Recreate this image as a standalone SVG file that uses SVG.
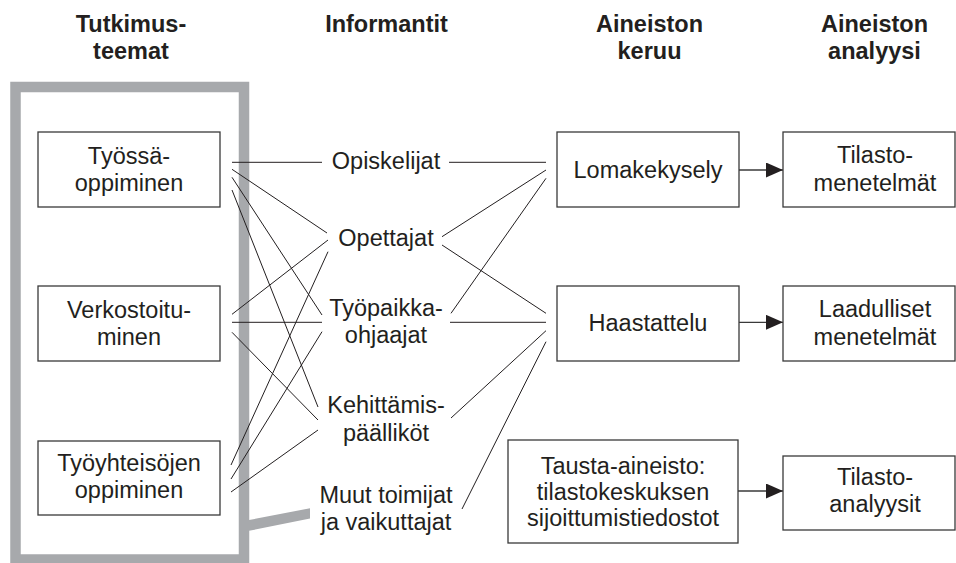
<svg xmlns="http://www.w3.org/2000/svg" width="956" height="563" viewBox="0 0 956 563">
<defs>
<style>
text{font-family:"Liberation Sans",Arial,sans-serif;font-size:23.5px;fill:#231f20;text-anchor:middle}
.h{font-weight:bold}
.box{fill:#fff;stroke:#3a3a3a;stroke-width:1.3}
.ln{stroke:#231f20;stroke-width:1;fill:none}
.ar{stroke:#3a3a3a;stroke-width:1.3;fill:none}
.frame{fill:none;stroke:#a7a9ac;stroke-width:10.5}
</style>
<marker id="ah" markerWidth="17" markerHeight="15" refX="17" refY="7.5" orient="auto" markerUnits="userSpaceOnUse">
<path d="M0,0 L17,7.5 L0,15 Z" fill="#231f20"/>
</marker>
</defs>
<rect width="956" height="563" fill="#fff"/>

<g id="headers">
<text class="h" x="131" y="32">Tutkimus-</text>
<text class="h" x="131" y="59">teemat</text>
<text class="h" x="386.5" y="32">Informantit</text>
<text class="h" x="649.5" y="32">Aineiston</text>
<text class="h" x="649.5" y="59">keruu</text>
<text class="h" x="874.5" y="32">Aineiston</text>
<text class="h" x="874.5" y="59">analyysi</text>
</g>

<g id="frame">
<rect class="frame" x="15.5" y="87" width="228.5" height="472.5"/>
<polygon points="249,520 310,508.3 310,518.5 249,530.8" fill="#a7a9ac"/>
</g>

<g id="connectors">
<line class="ln" x1="232" y1="162.3" x2="322" y2="162.3"/>
<line class="ln" x1="232" y1="169.3" x2="327" y2="233"/>
<line class="ln" x1="232" y1="177.3" x2="322" y2="315"/>
<line class="ln" x1="232" y1="190" x2="318" y2="407"/>
<line class="ln" x1="232" y1="314.3" x2="328" y2="240"/>
<line class="ln" x1="232" y1="322.3" x2="322" y2="322.3"/>
<line class="ln" x1="232" y1="332.3" x2="318" y2="420"/>
<line class="ln" x1="231" y1="465" x2="328" y2="251.7"/>
<line class="ln" x1="231" y1="479" x2="322" y2="331.7"/>
<line class="ln" x1="231" y1="492" x2="318" y2="430"/>
<line class="ln" x1="449" y1="162.3" x2="546" y2="162.3"/>
<line class="ln" x1="442" y1="236.7" x2="546" y2="170"/>
<line class="ln" x1="442" y1="245" x2="546" y2="313.3"/>
<line class="ln" x1="451" y1="313.3" x2="546" y2="178.3"/>
<line class="ln" x1="450" y1="322.3" x2="546" y2="322.3"/>
<line class="ln" x1="451" y1="418" x2="546" y2="330.7"/>
<line class="ln" x1="462" y1="509" x2="546" y2="341.7"/>
<line class="ar" x1="739" y1="170" x2="783" y2="170" marker-end="url(#ah)"/>
<line class="ar" x1="739" y1="322.3" x2="783" y2="322.3" marker-end="url(#ah)"/>
<line class="ar" x1="738" y1="491" x2="783" y2="491" marker-end="url(#ah)"/>
</g>

<g id="tyossaoppiminen">
<rect class="box" x="38" y="132" width="182" height="75"/>
<text x="129" y="163.5">Työssä-</text>
<text x="129" y="190.5">oppiminen</text>
</g>
<g id="verkostoituminen">
<rect class="box" x="38" y="286" width="182" height="75"/>
<text x="129" y="317.5">Verkostoitu-</text>
<text x="129" y="344.5">minen</text>
</g>
<g id="tyoyhteisojen">
<rect class="box" x="38" y="441" width="182" height="74"/>
<text x="129" y="471">Työyhteisöjen</text>
<text x="129" y="498">oppiminen</text>
</g>

<g id="opiskelijat"><text x="386" y="169.3">Opiskelijat</text></g>
<g id="opettajat"><text x="386" y="246">Opettajat</text></g>
<g id="tyopaikkaohjaajat">
<text x="386" y="316">Työpaikka-</text>
<text x="386" y="342.5">ohjaajat</text>
</g>
<g id="kehittamispaallikot">
<text x="386" y="413">Kehittämis-</text>
<text x="386" y="441">päälliköt</text>
</g>
<g id="muut">
<text x="386" y="503">Muut toimijat</text>
<text x="386" y="530">ja vaikuttajat</text>
</g>

<g id="lomakekysely">
<rect class="box" x="557" y="132" width="182" height="75"/>
<text x="648" y="177.5">Lomakekysely</text>
</g>
<g id="haastattelu">
<rect class="box" x="557" y="286" width="182" height="75"/>
<text x="648" y="331">Haastattelu</text>
</g>
<g id="tausta">
<rect class="box" x="508" y="440" width="230" height="103"/>
<text x="623" y="473.5">Tausta-aineisto:</text>
<text x="623" y="499.5">tilastokeskuksen</text>
<text x="623" y="525.5">sijoittumistiedostot</text>
</g>

<g id="tilastomenetelmat">
<rect class="box" x="783" y="132" width="172" height="75"/>
<text x="875" y="163">Tilasto-</text>
<text x="875" y="190.5">menetelmät</text>
</g>
<g id="laadulliset">
<rect class="box" x="783" y="286" width="172" height="75"/>
<text x="875" y="317">Laadulliset</text>
<text x="875" y="344.5">menetelmät</text>
</g>
<g id="tilastoanalyysit">
<rect class="box" x="783" y="456" width="172" height="74"/>
<text x="875" y="485">Tilasto-</text>
<text x="875" y="512">analyysit</text>
</g>
</svg>
